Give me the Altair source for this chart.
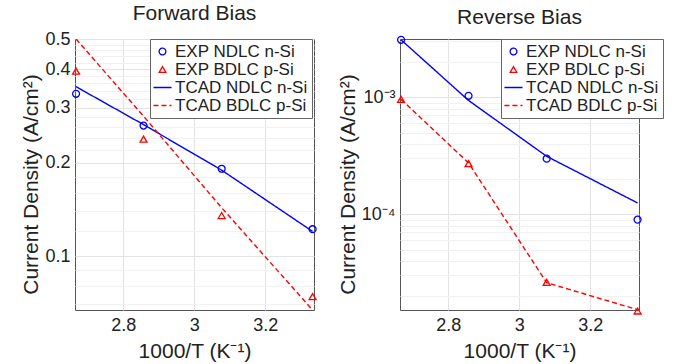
import altair as alt
import pandas as pd

# ---- data ----
x_vals = [2.667, 2.857, 3.077, 3.333]          # 1000/T
series = ["EXP NDLC n-Si", "EXP BDLC p-Si", "TCAD NDLC n-Si", "TCAD BDLC p-Si"]

fwd_exp_ndlc = [0.333, 0.263, 0.191, 0.122]
fwd_exp_bdlc = [0.394, 0.238, 0.135, 0.074]
fwd_tcad_ndlc = [0.351, 0.265, 0.189, 0.120]
fwd_tcad_bdlc = [0.500, 0.282, 0.143, 0.067]

rev_exp_ndlc = [3.1e-3, 1.03e-3, 2.99e-4, 9.0e-5]
rev_exp_bdlc = [9.6e-4, 2.71e-4, 2.62e-5, 1.49e-5]
rev_tcad_ndlc = [3.1e-3, 9.4e-4, 3.13e-4, 1.25e-4]
rev_tcad_bdlc = [9.6e-4, 2.75e-4, 2.6e-5, 1.53e-5]

x_ticks = [2.8, 3.0, 3.2]
fwd_major = [0.1, 0.2, 0.3, 0.4, 0.5]
fwd_minor = [0.07, 0.08, 0.09, 0.12, 0.14, 0.16, 0.18, 0.22, 0.24, 0.26, 0.28,
             0.32, 0.34, 0.36, 0.38, 0.42, 0.44, 0.46, 0.48]
rev_major = [1e-4, 1e-3]
rev_minor = [2e-5, 3e-5, 4e-5, 5e-5, 6e-5, 7e-5, 8e-5, 9e-5,
             2e-4, 3e-4, 4e-4, 5e-4, 6e-4, 7e-4, 8e-4, 9e-4, 2e-3, 3e-3]

FONT = "Liberation Sans"
TXT = "#222222"
colors = ["#0000ff", "#ff0000", "#0000ff", "#ff0000"]
shapes = ["circle", "triangle-up", "M-2.7,0H2.7", "M-2.7,0H2.7"]
dashes = [[1, 0], [1, 0], [1, 0], [5, 3]]


def make_df(names, value_lists):
    rows = []
    for name, vals in zip(names, value_lists):
        for xv, yv in zip(x_vals, vals):
            rows.append({"x": xv, "y": yv, "series": name})
    return pd.DataFrame(rows)


def panel(title, exp_lists, tcad_lists, ydomain, major, minor, label_expr, legend_x):
    exp_df = make_df(series[:2], exp_lists)
    tcad_df = make_df(series[2:], tcad_lists)

    leg = alt.Legend(
        title=None, orient="none", legendX=legend_x, legendY=0,
        labelFontSize=17, labelFont=FONT, labelColor=TXT, labelOffset=4,
        symbolSize=45, symbolStrokeWidth=1.3, rowPadding=0,
        padding=4, strokeColor="#666666", fillColor="white", labelLimit=300,
    )
    xenc = alt.X(
        "x:Q",
        scale=alt.Scale(domain=[2.664, 3.337], nice=False, zero=False),
        axis=alt.Axis(values=x_ticks, format="~g", title="1000/T (K⁻¹)",
                      grid=True, gridColor="#e3e3e3", ticks=False, domain=False,
                      labelFontSize=18, titleFontSize=21, labelPadding=6,
                      titlePadding=6, labelFont=FONT, titleFont=FONT,
                      labelColor=TXT, titleColor=TXT, titleFontWeight="normal"),
    )
    all_vals = major + minor
    major_str = "[" + ",".join(repr(v) for v in major) + "]"
    yenc = alt.Y(
        "y:Q",
        scale=alt.Scale(type="log", domain=ydomain, nice=False),
        axis=alt.Axis(values=all_vals, labelExpr=label_expr,
                      title="Current Density (A/cm²)",
                      grid=True,
                      gridColor={"condition": {"test": f"indexof({major_str}, datum.value) >= 0",
                                               "value": "#e3e3e3"},
                                 "value": "#f1f1f1"},
                      ticks=False, domain=False,
                      labelFontSize=18, titleFontSize=21, labelPadding=5,
                      titlePadding=3, titleY=145, labelFont=FONT, titleFont=FONT,
                      labelColor=TXT, titleColor=TXT, titleFontWeight="normal"),
    )
    color = alt.Color("series:N", scale=alt.Scale(domain=series, range=colors), legend=leg)
    shape = alt.Shape("series:N", scale=alt.Scale(domain=series, range=shapes), legend=leg)
    dash = alt.StrokeDash("series:N", scale=alt.Scale(domain=series, range=dashes), legend=leg)

    lines = alt.Chart(tcad_df).mark_line(strokeWidth=1.4, clip=True).encode(
        x=xenc, y=yenc, color=color, strokeDash=dash, detail="series:N"
    )
    pts = alt.Chart(exp_df).mark_point(filled=False, size=48, strokeWidth=1.3, opacity=1).encode(
        x=xenc, y=yenc, color=color, shape=shape
    )
    return alt.layer(lines, pts).properties(
        width=239, height=271,
        title=alt.TitleParams(title, fontSize=21, font=FONT, fontWeight="normal",
                              color=TXT, offset=6, anchor="middle"),
    )


left = panel(
    "Forward Bias",
    [fwd_exp_ndlc, fwd_exp_bdlc], [fwd_tcad_ndlc, fwd_tcad_bdlc],
    [0.067, 0.5], fwd_major, fwd_minor,
    "indexof(" + "[" + ",".join(repr(v) for v in fwd_major) + "]" + ", datum.value) >= 0 ? format(datum.value, '.1f') : ''",
    75,
)
right = panel(
    "Reverse Bias",
    [rev_exp_ndlc, rev_exp_bdlc], [rev_tcad_ndlc, rev_tcad_bdlc],
    [1.52e-5, 3.15e-3], rev_major, rev_minor,
    "datum.value == 0.001 ? '10⁻³' : (datum.value == 0.0001 ? '10⁻⁴' : '')",
    101,
)

chart = alt.hconcat(left, right, spacing=16).resolve_scale(
    color="independent", shape="independent", strokeDash="independent"
).properties(
    padding={"left": 20, "top": 2, "right": 0, "bottom": 0},
    background="white",
).configure_view(stroke="#555555", strokeWidth=1)

chart.save("out.html", embed_options={"renderer": "svg", "actions": False})
